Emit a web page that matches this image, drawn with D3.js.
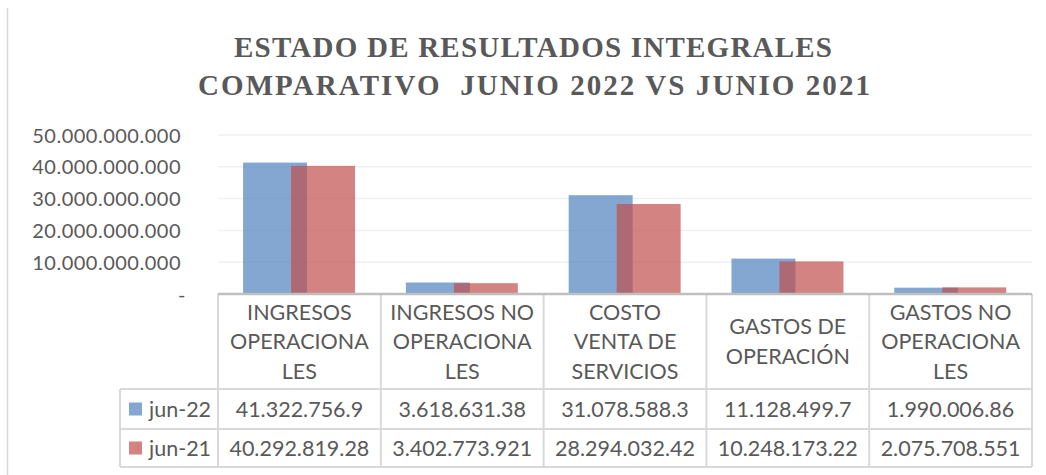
<!DOCTYPE html>
<html><head><meta charset="utf-8">
<script src="https://cdn.jsdelivr.net/npm/d3@7/dist/d3.min.js"></script>
<style>
html,body{margin:0;padding:0;background:#fff;}
svg{display:block;}
</style></head>
<body>
<script>
const categories = [
  ["INGRESOS","OPERACIONA","LES"],
  ["INGRESOS NO","OPERACIONA","LES"],
  ["COSTO","VENTA DE","SERVICIOS"],
  ["GASTOS DE","OPERACIÓN"],
  ["GASTOS NO","OPERACIONA","LES"]
];
const seriesNames = ["jun-22","jun-21"];
const jun22 = [41322756900, 3618631380, 31078588300, 11128499700, 1990006860];
const jun21 = [40292819280, 3402773921, 28294032420, 10248173220, 2075708551];
const jun22Labels = ["41.322.756.9","3.618.631.38","31.078.588.3","11.128.499.7","1.990.006.86"];
const jun21Labels = ["40.292.819.28","3.402.773.921","28.294.032.42","10.248.173.22","2.075.708.551"];
const yTicks = [0,10000000000,20000000000,30000000000,40000000000,50000000000];
const titleLines = ["ESTADO DE RESULTADOS INTEGRALES","COMPARATIVO  JUNIO 2022 VS JUNIO 2021"];

const W=1046,H=475;
const colors=["#4F81BD","#C0504D"];
const txt="#595959";
const font="Lato, 'Open Sans', sans-serif";
const tfs=21.5;

const svg=d3.select("body").append("svg").attr("width",W).attr("height",H);

// outer chart-area left border
svg.append("line").attr("x1",7.5).attr("x2",7.5).attr("y1",8).attr("y2",H).attr("stroke","#d9d9d9").attr("stroke-width",1.5);

// title
const tl=[{t:titleLines[0],y:57,x0:234,x1:832},{t:titleLines[1],y:95,x0:198,x1:870}];
svg.selectAll("text.title").data(tl).enter().append("text")
  .attr("class","title").attr("x",d=>d.x0).attr("y",d=>d.y)
  .attr("textLength",d=>d.x1-d.x0).attr("lengthAdjust","spacing")
  .style("white-space","pre")
  .attr("font-family","'Liberation Serif', serif").attr("font-weight","bold").attr("font-size",29)
  .attr("fill",txt).text(d=>d.t);

const x=d3.scaleBand().domain(d3.range(categories.length)).range([218,1032]).paddingInner(0).paddingOuter(0);
const y=d3.scaleLinear().domain([0,50000000000]).range([294,135]);
const bw=x.bandwidth();
const barW=bw*0.393;

// gridlines
svg.append("g").selectAll("line").data(yTicks.slice(1)).enter().append("line")
  .attr("x1",218).attr("x2",1032).attr("y1",d=>y(d)).attr("y2",d=>y(d))
  .attr("stroke","#f0f0f0").attr("stroke-width",1.5);

// y axis labels
const fmt=v=>v===0?"-":d3.format(",")(v).replace(/,/g,".");
const yAxis=d3.axisLeft(y).tickValues(yTicks).tickFormat(fmt).tickSize(0).tickPadding(0);
const ga=svg.append("g").attr("transform","translate(181,0)").call(yAxis);
ga.select(".domain").remove();
ga.selectAll("text").attr("font-family",font).attr("font-size",20).attr("letter-spacing",0.5).attr("fill",txt).attr("dy","0.35em")
  .attr("dx",d=>d===0?5:0);

// bars
const series=[jun22,jun21];
series.forEach((vals,si)=>{
  svg.append("g").selectAll("rect").data(vals).enter().append("rect")
    .attr("x",(d,i)=>x(i)+bw*0.154+si*barW*0.75)
    .attr("width",barW)
    .attr("y",d=>y(d)).attr("height",d=>y(0)-y(d))
    .attr("fill",colors[si]).attr("fill-opacity",0.7);
});

// table
const rowH=[294,389,429,467];
const grid="#d9d9d9";
const tg=svg.append("g");
[1,2,3].forEach(r=>{
  tg.append("line").attr("x1",120).attr("x2",1032).attr("y1",rowH[r]).attr("y2",rowH[r]).attr("stroke",grid).attr("stroke-width",2);
});
const vx=d3.range(categories.length+1).map(i=>i<categories.length?x(i):1032);
tg.selectAll("line.v").data(vx).enter().append("line").attr("class","v")
  .attr("x1",d=>d).attr("x2",d=>d).attr("y1",rowH[0]).attr("y2",rowH[3]).attr("stroke",grid).attr("stroke-width",2);
tg.append("line").attr("x1",120).attr("x2",120).attr("y1",rowH[1]).attr("y2",rowH[3]).attr("stroke",grid).attr("stroke-width",2);
// axis baseline
svg.append("line").attr("x1",218).attr("x2",1032).attr("y1",294).attr("y2",294).attr("stroke","#bfbfbf").attr("stroke-width",2.5);

// header text
categories.forEach((lines,i)=>{
  const cx=x(i)+bw/2;
  const cy=(rowH[0]+rowH[1])/2;
  const lh=29.5;
  const t=svg.append("text").attr("font-family",font).attr("font-size",tfs).attr("fill",txt).attr("text-anchor","middle");
  lines.forEach((l,j)=>{
    t.append("tspan").attr("x",cx).attr("y",cy+(j-(lines.length-1)/2)*lh).attr("dy","0.35em").text(l);
  });
});
// value rows
[jun22Labels,jun21Labels].forEach((labs,si)=>{
  const cy=(rowH[si+1]+rowH[si+2])/2;
  svg.append("g").selectAll("text").data(labs).enter().append("text")
    .attr("x",(d,i)=>x(i)+bw/2).attr("y",cy).attr("dy","0.35em")
    .attr("text-anchor","middle").attr("font-family",font).attr("font-size",tfs).attr("fill",txt).text(d=>d);
  svg.append("rect").attr("x",129).attr("y",cy-6.5).attr("width",13).attr("height",13).attr("fill",colors[si]).attr("fill-opacity",0.7);
  svg.append("text").attr("x",149).attr("y",cy).attr("dy","0.35em").attr("font-family",font).attr("font-size",tfs).attr("fill",txt).text(seriesNames[si]);
});
</script>
</body></html>
